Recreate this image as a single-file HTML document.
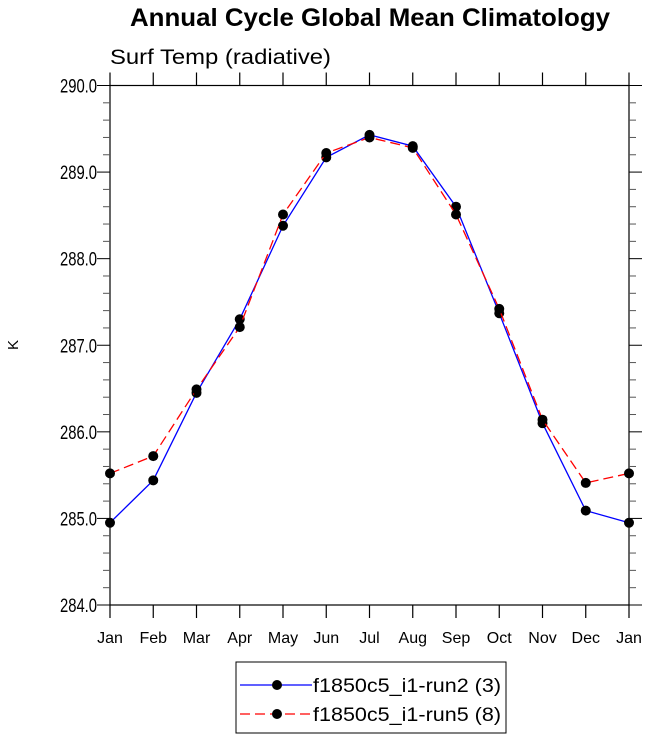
<!DOCTYPE html>
<html><head><meta charset="utf-8"><style>
body{margin:0;background:#fff;}
svg{display:block;font-family:"Liberation Sans",sans-serif;}
</style></head><body>
<svg id="c" width="648" height="740">
<text x="130" y="26" font-size="25" font-weight="bold" textLength="480" lengthAdjust="spacingAndGlyphs">Annual Cycle Global Mean Climatology</text>
<text x="110" y="64" font-size="21" textLength="221" lengthAdjust="spacingAndGlyphs">Surf Temp (radiative)</text>
<text transform="translate(18,345) rotate(-90)" text-anchor="middle" font-size="15">K</text>
<rect x="110" y="85.5" width="519" height="519.5" fill="none" stroke="#000" stroke-width="1.2"/>
<g id="ax"></g>
<g id="series"></g>
<rect x="236" y="662" width="270" height="71" fill="#fff" stroke="#000" stroke-width="1"/>
<g>
<line x1="240" y1="685" x2="312" y2="685" stroke="#0000ff" stroke-width="1.3"/>
<circle cx="277" cy="685" r="5" fill="#000"/>
<text x="313" y="692" font-size="19" textLength="188" lengthAdjust="spacingAndGlyphs">f1850c5_i1-run2 (3)</text>
</g>
<g>
<line x1="240" y1="714" x2="312" y2="714" stroke="#ff0000" stroke-width="1.3" stroke-dasharray="10,5"/>
<circle cx="277" cy="714" r="5" fill="#000"/>
<text x="313" y="721" font-size="19" textLength="188" lengthAdjust="spacingAndGlyphs">f1850c5_i1-run5 (8)</text>
</g>
</svg>
<script>
const months=["Jan","Feb","Mar","Apr","May","Jun","Jul","Aug","Sep","Oct","Nov","Dec","Jan"];
const yTicks=[284,285,286,287,288,289,290];
const run2=[284.95,285.44,286.45,287.30,288.38,289.17,289.43,289.30,288.60,287.37,286.10,285.09,284.95];
const run5=[285.52,285.72,286.49,287.21,288.51,289.22,289.40,289.28,288.51,287.42,286.14,285.41,285.52];
const L=110,R=629,T=85.5,B=605,ymin=284,ymax=290;
const xs=i=>L+i*(R-L)/12;
const ys=v=>B-(v-ymin)/(ymax-ymin)*(B-T);
const NS="http://www.w3.org/2000/svg";
function mk(t,a,p){const e=document.createElementNS(NS,t);for(const k in a)e.setAttribute(k,a[k]);p.appendChild(e);return e;}
const ax=document.getElementById('ax');
months.forEach((m,i)=>{
 const x=xs(i);
 let t=mk('line',{x1:x,y1:B,x2:x,y2:B+13,stroke:'#000','stroke-width':1.2},ax);
 
 
 t=mk('line',{x1:x,y1:T,x2:x,y2:T-13,stroke:'#000','stroke-width':1.2},ax);
 
 
 const l=mk('text',{x:x,y:643,'text-anchor':'middle','font-size':16},ax);
 l.textContent=m;
 
 
});
for(let v=ymin;v<=ymax+1e-9;v+=0.2){
 const y=ys(v);const major=Math.abs(v-Math.round(v))<1e-6;const len=major?13:7;
 let t=mk('line',{x1:L-len,y1:y,x2:L,y2:y,stroke:major?'#000':'#555','stroke-width':1},ax);
 
 
 t=mk('line',{x1:R,y1:y,x2:R+len,y2:y,stroke:major?'#000':'#555','stroke-width':1},ax);
 
 
}
yTicks.forEach(v=>{
 const l=mk('text',{x:60,y:ys(v)+7,'font-size':19,textLength:37,lengthAdjust:'spacingAndGlyphs'},ax);
 l.textContent=v.toFixed(1);
 
 
});
const sg=document.getElementById('series');
function draw(data,color,dash,name){
 const g=mk('g',{},sg);
 
 
 const a={points:data.map((v,i)=>xs(i)+','+ys(v)).join(' '),fill:'none',stroke:color,'stroke-width':1.3};
 if(dash)a['stroke-dasharray']=dash;
 const p=mk('polyline',a,g);
 
 
 data.forEach((v,i)=>{
  const c=mk('circle',{cx:xs(i),cy:ys(v),r:5,fill:'#000'},g);
  
  
 });
}
draw(run2,'#0000ff',null,'series-run2');
draw(run5,'#ff0000','10,5','series-run5');
</script>
</body></html>
